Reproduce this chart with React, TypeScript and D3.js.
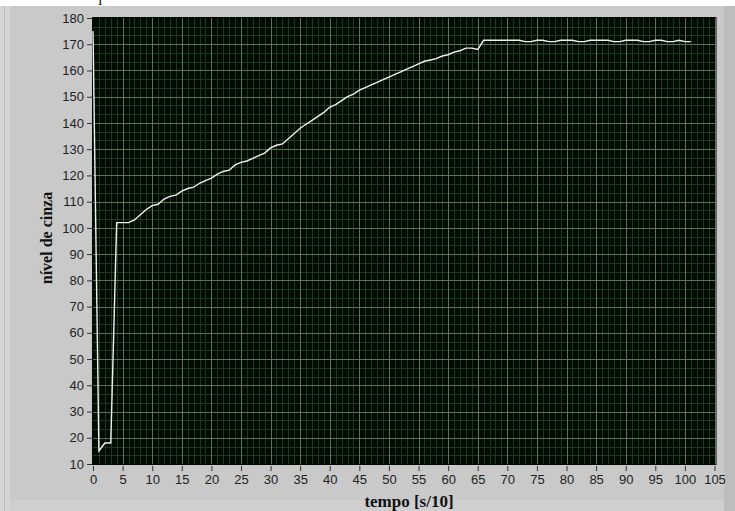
import React, { useEffect, useRef } from 'react';
import * as d3 from 'd3';

// nível de cinza, one sample per tempo step (s/10), starting at 0
const grayLevel = [
  175, 15, 18, 18, 102, 102, 102, 103, 105, 107,
  108.5, 109, 111, 112, 112.5, 114, 115, 115.5, 117, 118,
  119, 120.5, 121.5, 122, 124, 125, 125.5, 126.5, 127.5, 128.5,
  130.5, 131.5, 132, 134, 136, 138, 139.5, 141, 142.5, 144,
  146, 147, 148.5, 150, 151, 152.5, 153.5, 154.5, 155.5, 156.5,
  157.5, 158.5, 159.5, 160.5, 161.5, 162.5, 163.5, 164, 164.5, 165.5,
  166, 167, 167.5, 168.5, 168.5, 168, 171.5, 171.5, 171.5, 171.5,
  171.5, 171.5, 171.5, 171, 171, 171.5, 171.5, 171, 171, 171.5,
  171.5, 171.5, 171, 171, 171.5, 171.5, 171.5, 171.5, 171, 171,
  171.5, 171.5, 171.5, 171, 171, 171.5, 171.5, 171, 171, 171.5,
  171, 171,
];

const xTicks = [0, 5, 10, 15, 20, 25, 30, 35, 40, 45, 50, 55, 60, 65, 70, 75, 80, 85, 90, 95, 100, 105];
const yTicks = [10, 20, 30, 40, 50, 60, 70, 80, 90, 100, 110, 120, 130, 140, 150, 160, 170, 180];

const xLabel = 'tempo [s/10]';
const yLabel = 'nível de cinza';

const App = () => {
  const ref = useRef<SVGSVGElement | null>(null);

  useEffect(() => {
    const svg = d3.select(ref.current);
    svg.selectAll('*').remove();
    const W = 735, H = 511;
    const left = 93, right = 714.5, top = 18, bottom = 464;

    // panel background
    svg.append('rect').attr('width', W).attr('height', H).attr('fill', '#c9c9c9');
    svg.append('rect').attr('width', W).attr('height', 6).attr('fill', '#ffffff');
    svg.append('rect').attr('x', 0).attr('y', 6).attr('width', 10).attr('height', H - 6).attr('fill', '#d5d5d5');
    svg.append('line').attr('x1', 4.5).attr('x2', 4.5).attr('y1', 6).attr('y2', H).attr('stroke', '#bcbcbc');
    svg.append('rect').attr('x', 724).attr('y', 6).attr('width', 11).attr('height', H - 6).attr('fill', '#bdbdbd');
    svg.append('rect').attr('x', 10).attr('y', 500).attr('width', 714).attr('height', 11).attr('fill', '#cfcfcf');
    // cut-off glyph from the text above
    svg.append('text').attr('x', 98).attr('y', 5).attr('font-family', 'Liberation Serif')
      .attr('font-size', 16).attr('fill', '#111').text('l');

    const x = d3.scaleLinear().domain([0, 105]).range([left, right]);
    const y = d3.scaleLinear().domain([10, 180]).range([bottom, top]);

    // plot area
    svg.append('rect')
      .attr('x', left - 1).attr('y', top - 1)
      .attr('width', right - left + 3).attr('height', bottom - top + 2)
      .attr('fill', '#020b03');

    // minor grid
    const minorX = d3.range(0, 105, 1).filter(v => v % 5 !== 0);
    const minorY = d3.range(10, 180, 10 / 3).filter((v, i) => i % 3 !== 0);
    svg.append('g').selectAll('line').data(minorX).join('line')
      .attr('x1', d => Math.round(x(d)) + 0.5).attr('x2', d => Math.round(x(d)) + 0.5)
      .attr('y1', top).attr('y2', bottom)
      .attr('stroke', '#1c3a1f').attr('stroke-width', 1);
    svg.append('g').selectAll('line').data(minorY).join('line')
      .attr('y1', d => Math.round(y(d)) + 0.5).attr('y2', d => Math.round(y(d)) + 0.5)
      .attr('x1', left).attr('x2', right + 1)
      .attr('stroke', '#1c3a1f').attr('stroke-width', 1);

    // major grid
    svg.append('g').selectAll('line').data(xTicks.slice(1)).join('line')
      .attr('x1', d => Math.round(x(d)) + 0.5).attr('x2', d => Math.round(x(d)) + 0.5)
      .attr('y1', top).attr('y2', bottom)
      .attr('stroke', '#5d7356').attr('stroke-width', 1);
    svg.append('g').selectAll('line').data(yTicks.slice(1, -1)).join('line')
      .attr('y1', d => Math.round(y(d)) + 0.5).attr('y2', d => Math.round(y(d)) + 0.5)
      .attr('x1', left).attr('x2', right + 1)
      .attr('stroke', '#5d7356').attr('stroke-width', 1);

    // axes
    const axisY = svg.append('g').attr('transform', `translate(${left - 1},0)`)
      .call(d3.axisLeft(y).tickValues(yTicks).tickSize(5).tickPadding(3));
    const axisX = svg.append('g').attr('transform', `translate(0,${bottom + 2})`)
      .call(d3.axisBottom(x).tickValues(xTicks).tickSize(5).tickPadding(4));
    [axisY, axisX].forEach(a => {
      a.select('.domain').remove();
      a.selectAll('line').attr('stroke', '#333');
      a.selectAll('text').attr('font-family', 'Liberation Sans, Arial, sans-serif')
        .attr('font-size', 13).attr('fill', '#222');
    });

    // curve
    svg.append('path')
      .datum(grayLevel)
      .attr('d', d3.line<number>().x((d, i) => x(i)).y(d => y(d)))
      .attr('fill', 'none')
      .attr('stroke', '#f2f2f2')
      .attr('stroke-width', 1.4);

    // titles
    svg.append('text')
      .attr('x', 409).attr('y', 507)
      .attr('text-anchor', 'middle')
      .attr('font-family', 'Liberation Serif, serif').attr('font-weight', 'bold')
      .attr('font-size', 17).attr('fill', '#111')
      .text(xLabel);
    svg.append('text')
      .attr('transform', `translate(52,238) rotate(-90)`)
      .attr('text-anchor', 'middle')
      .attr('font-family', 'Liberation Serif, serif').attr('font-weight', 'bold')
      .attr('font-size', 16).attr('fill', '#111')
      .text(yLabel);
  }, []);

  return (
    <svg ref={ref} width={735} height={511}
      style={{ position: 'absolute', left: 0, top: 0, display: 'block' }} />
  );
};

export default App;
